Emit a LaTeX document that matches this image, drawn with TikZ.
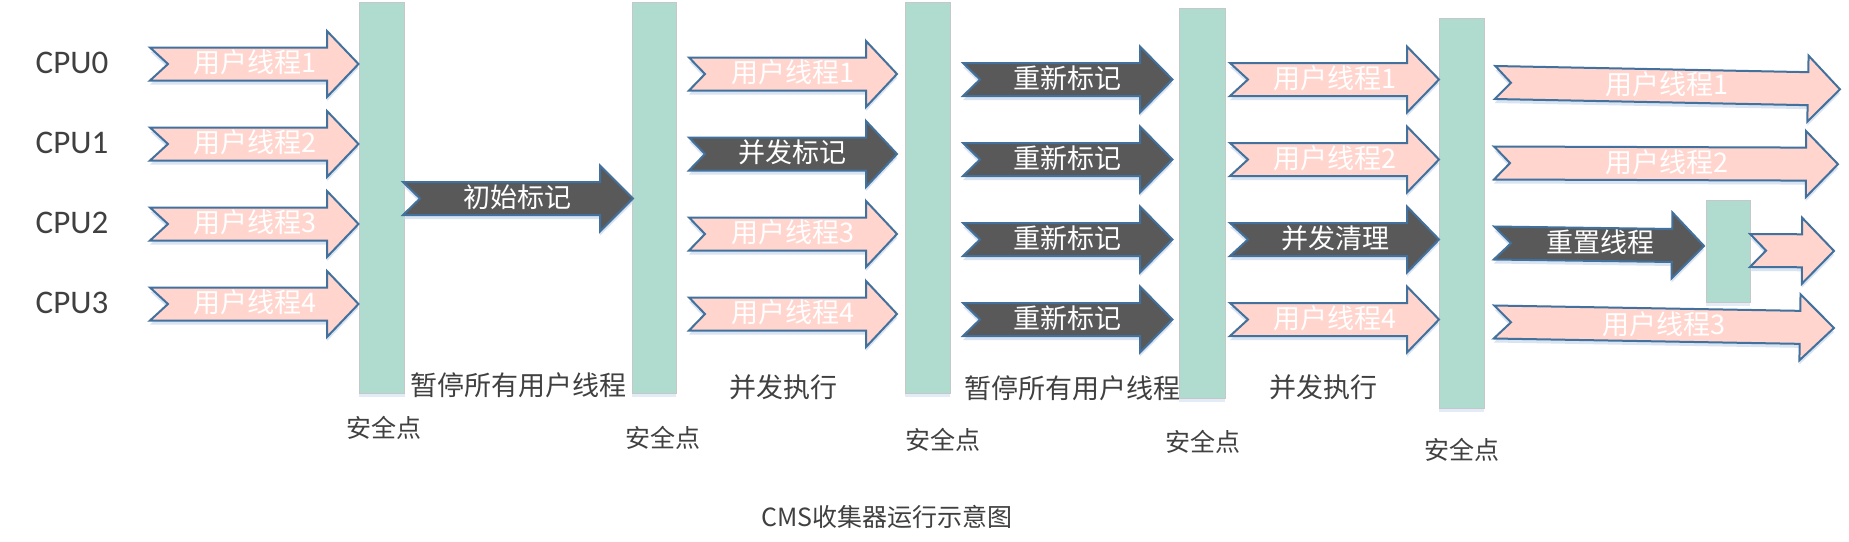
\documentclass[tikz,border=0pt]{standalone}
\usepackage{fontspec}
\setmainfont{Noto Sans CJK SC}
\newfontfamily\latf{Carlito}
\usetikzlibrary{shadows}
\definecolor{pinkf}{HTML}{FFD5CE}
\definecolor{edgeb}{HTML}{41719C}
\definecolor{darkf}{HTML}{595959}
\definecolor{barf}{HTML}{B0DCD0}
\definecolor{barl}{HTML}{C4C8C8}
\definecolor{txtc}{HTML}{404040}
\definecolor{shb}{HTML}{C9D9EE}
% style, x left, x head start, x tip, y centre, notch, rotation
\newcommand{\chev}[7]{%
  \path[#1, rotate around={#7:(#2,#5)}] (#2,#5-16.5) -- (#3,#5-16.5) -- (#3,#5-33) -- (#4,#5) -- (#3,#5+33) -- (#3,#5+16.5) -- (#2,#5+16.5) -- (#2+#6,#5) -- cycle;}
\tikzset{
  pinkar/.style={fill=pinkf, draw=edgeb, line width=2pt, line join=miter,
    drop shadow={shadow xshift=0pt, shadow yshift=-4pt, fill=shb, opacity=0.7}},
  darkar/.style={fill=darkf, draw=edgeb, line width=2pt, line join=miter,
    drop shadow={shadow xshift=0pt, shadow yshift=-4pt, fill=shb, opacity=0.7}},
  sbar/.style={fill=barf, draw=barl, line width=1pt, inner sep=0pt, outer sep=0pt, anchor=north west,
    drop shadow={shadow xshift=0pt, shadow yshift=-4pt, fill=shb, opacity=0.5}},
  atext/.style={text=white, font=\fontsize{27}{30}\selectfont, inner sep=0pt},
  cpu/.style={text=txtc, font=\latf\fontsize{33}{36}\selectfont, inner sep=0pt},
  lbl/.style={text=txtc, font=\fontsize{25}{28}\selectfont, inner sep=0pt},
  phase/.style={text=txtc, font=\fontsize{27}{30}\selectfont, inner sep=0pt},
}
\begin{document}
\begin{tikzpicture}[x=1pt,y=-1pt]
\useasboundingbox[fill=white] (0,0) rectangle (1849,541);
% safepoint bars
\node[sbar, minimum width=45.5, minimum height=391] (sp1) at (359,2) {};
\node[sbar, minimum width=44, minimum height=391] (sp2) at (632,2) {};
\node[sbar, minimum width=45, minimum height=391] (sp3) at (905,2) {};
\node[sbar, minimum width=46, minimum height=390] (sp4) at (1179,8) {};
\node[sbar, minimum width=45, minimum height=390] (sp5) at (1439,18) {};
% CPU labels
\node[cpu] (c0) at (72,63) {CPU0};
\node[cpu] (c1) at (72,143) {CPU1};
\node[cpu] (c2) at (72,223) {CPU2};
\node[cpu] (c3) at (72,303) {CPU3};
% column 1
\chev{pinkar}{150}{327}{358.5}{64}{18}{0}
\chev{pinkar}{150}{327}{358.5}{144}{18}{0}
\chev{pinkar}{150}{327}{358.5}{224}{18}{0}
\chev{pinkar}{150}{327}{358.5}{304}{18}{0}
\node[atext] (a11) at (255,62) {用户线程1};
\node[atext] (a12) at (255,142) {用户线程2};
\node[atext] (a13) at (255,222) {用户线程3};
\node[atext] (a14) at (255,302) {用户线程4};
% initial mark
\chev{darkar}{403}{600}{633}{198.5}{17}{0}
\node[atext] (im) at (517,197) {初始标记};
% column 2
\chev{pinkar}{689}{866}{897}{74}{16}{0}
\chev{darkar}{689}{866}{897}{154}{16}{0}
\chev{pinkar}{689}{866}{897}{234}{16}{0}
\chev{pinkar}{689}{866}{897}{314}{16}{0}
\node[atext] (a21) at (793,72) {用户线程1};
\node[atext] (a22) at (792,152) {并发标记};
\node[atext] (a23) at (793,232) {用户线程3};
\node[atext] (a24) at (793,312) {用户线程4};
% column 3
\chev{darkar}{963}{1140}{1172.5}{79.5}{17}{0}
\chev{darkar}{963}{1140}{1172.5}{159.5}{17}{0}
\chev{darkar}{963}{1140}{1172.5}{239.5}{17}{0}
\chev{darkar}{963}{1140}{1172.5}{319.5}{17}{0}
\node[atext] (a31) at (1067,78) {重新标记};
\node[atext] (a32) at (1067,158) {重新标记};
\node[atext] (a33) at (1067,238) {重新标记};
\node[atext] (a34) at (1067,318) {重新标记};
% column 4
\chev{pinkar}{1230}{1407}{1439}{79.5}{18}{0}
\chev{pinkar}{1230}{1407}{1439}{159.5}{18}{0}
\chev{darkar}{1230}{1407}{1439}{239.5}{18}{0}
\chev{pinkar}{1230}{1407}{1439}{319.5}{18}{0}
\node[atext] (a41) at (1335,78) {用户线程1};
\node[atext] (a42) at (1335,158) {用户线程2};
\node[atext] (a43) at (1335,238) {并发清理};
\node[atext] (a44) at (1335,318) {用户线程4};
% column 5
\chev{pinkar}{1495}{1808}{1840}{82.5}{16}{-1.13}
\chev{pinkar}{1494}{1806}{1838}{163}{16}{-0.2}
\chev{darkar}{1494}{1672}{1704}{243}{17}{-0.8}
\chev{pinkar}{1494}{1800}{1834}{322}{17}{-1.0}
\node[sbar, minimum width=44, minimum height=102] (sp6) at (1706,200) {};
\chev{pinkar}{1750}{1802}{1834}{250.5}{16}{-0.3}
\node[atext] (a51) at (1667,84) {用户线程1};
\node[atext] (a52) at (1667,162) {用户线程2};
\node[atext] (a53) at (1600,242) {重置线程};
\node[atext] (a54) at (1664,324) {用户线程3};
% phase labels
\node[phase] (p1) at (518,385) {暂停所有用户线程};
\node[phase] (p2) at (783,387) {并发执行};
\node[phase] (p3) at (1072,388) {暂停所有用户线程};
\node[phase] (p4) at (1323,387) {并发执行};
% safepoint labels
\node[lbl] (s1) at (384,428) {安全点};
\node[lbl] (s2) at (663,438) {安全点};
\node[lbl] (s3) at (943,440) {安全点};
\node[lbl] (s4) at (1203,442) {安全点};
\node[lbl] (s5) at (1462,450) {安全点};
% title
\node[lbl] (title) at (887,517) {CMS收集器运行示意图};
\end{tikzpicture}
\end{document}
